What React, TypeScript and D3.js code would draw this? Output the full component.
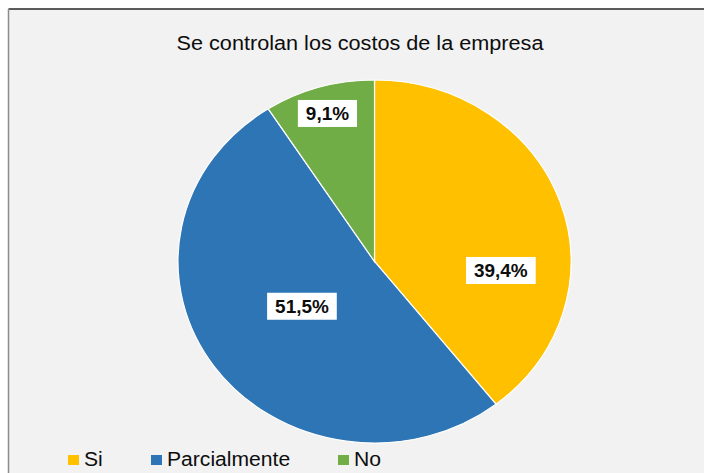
import React, { useEffect, useRef } from 'react';
import * as d3 from 'd3';

// data (counts out of 33 give 39,4 / 51,5 / 9,1 %)
const categories = ['Si', 'Parcialmente', 'No'];
const counts = [13, 17, 3];
const colors = ['#FFC000', '#2E75B6', '#70AD47'];
const title = 'Se controlan los costos de la empresa';

const width = 704;
const height = 473;

export default function App() {
  const $svg = useRef<SVGSVGElement>(null);

  useEffect(() => {
    const svg = d3.select($svg.current);
    svg.selectAll('*').remove();

    const font = '"Liberation Sans", Arial, Helvetica, sans-serif';
    const cx = 374.5;
    const cy = 261.5;
    const radius = 181.5;
    const stretchX = 196.5 / 181.5; // the reference picture is a bit wider than tall

    // frame
    svg.append('rect').attr('width', width).attr('height', height).attr('fill', '#ffffff');
    svg
      .append('rect')
      .attr('x', 8.5)
      .attr('y', 9)
      .attr('width', width)
      .attr('height', height)
      .attr('fill', '#f2f2f2');
    svg
      .append('line')
      .attr('x1', 8.5).attr('x2', width).attr('y1', 9).attr('y2', 9)
      .attr('stroke', '#262626').attr('stroke-width', 1.5);
    svg
      .append('line')
      .attr('x1', 8.5).attr('x2', 8.5).attr('y1', 9).attr('y2', height)
      .attr('stroke', '#8c8c8c').attr('stroke-width', 1.5);

    svg
      .append('text')
      .attr('transform', `translate(360,50) scale(${stretchX},1)`)
      .attr('text-anchor', 'middle')
      .attr('font-family', font)
      .attr('font-size', 20)
      .attr('fill', '#0d0d0d')
      .text(title);

    const pie = d3
      .pie<number>()
      .sort(null)
      .value(d => d);
    const arcs = pie(counts);
    const total = d3.sum(counts);
    const arcGen = d3.arc<d3.PieArcDatum<number>>().innerRadius(0).outerRadius(radius);

    const pieGroup = svg
      .append('g')
      .attr('transform', `translate(${cx},${cy}) scale(${stretchX},1)`);
    pieGroup
      .selectAll('path')
      .data(arcs)
      .enter()
      .append('path')
      .attr('d', arcGen)
      .attr('fill', (_, i) => colors[i])
      .attr('stroke', '#ffffff')
      .attr('stroke-width', 1.2)
      .attr('vector-effect', 'non-scaling-stroke');

    // Excel "best fit" placement: angle shift (radians) and fraction of radius
    const placement = [
      { shift: 0.41, frac: 0.645 },
      { shift: 0.03, frac: 0.444 },
      { shift: 0, frac: 0.85 }
    ];
    const fmt = (v: number) => d3.format('.1f')((v / total) * 100).replace('.', ',') + '%';

    const labels = svg.append('g');
    arcs.forEach((d, i) => {
      const angle = (d.startAngle + d.endAngle) / 2 + placement[i].shift;
      const r = radius * placement[i].frac;
      const x = cx + Math.sin(angle) * r * stretchX;
      const y = cy - Math.cos(angle) * r;
      const g = labels.append('g');
      const rect = g.append('rect').attr('fill', '#ffffff');
      const text = g
        .append('text')
        .attr('transform', `translate(${x},${y + 6.5}) scale(${stretchX},1)`)
        .attr('text-anchor', 'middle')
        .attr('font-family', font)
        .attr('font-weight', 'bold')
        .attr('font-size', 17.5)
        .attr('fill', '#0d0d0d')
        .text(fmt(d.data));
      const w = (text.node() as SVGTextElement).getComputedTextLength() * stretchX + 16;
      rect
        .attr('x', x - w / 2)
        .attr('y', y - 13.5)
        .attr('width', w)
        .attr('height', 27);
    });

    // legend
    const legendX = d3.scaleOrdinal<string, number>().domain(categories).range([68, 151, 338]);
    const legend = svg
      .append('g')
      .selectAll('g')
      .data(categories)
      .enter()
      .append('g')
      .attr('transform', d => `translate(${legendX(d)},455)`);
    legend
      .append('rect')
      .attr('width', 11)
      .attr('height', 10)
      .attr('fill', (_, i) => colors[i]);
    legend
      .append('text')
      .attr('transform', `translate(16,11) scale(${stretchX},1)`)
      .attr('font-family', font)
      .attr('font-size', 19.5)
      .attr('fill', '#0d0d0d')
      .text(d => d);
  }, []);

  return (
    <svg
      ref={$svg}
      width={width}
      height={height}
      style={{ position: 'absolute', left: 0, top: 0 }}
    />
  );
}
